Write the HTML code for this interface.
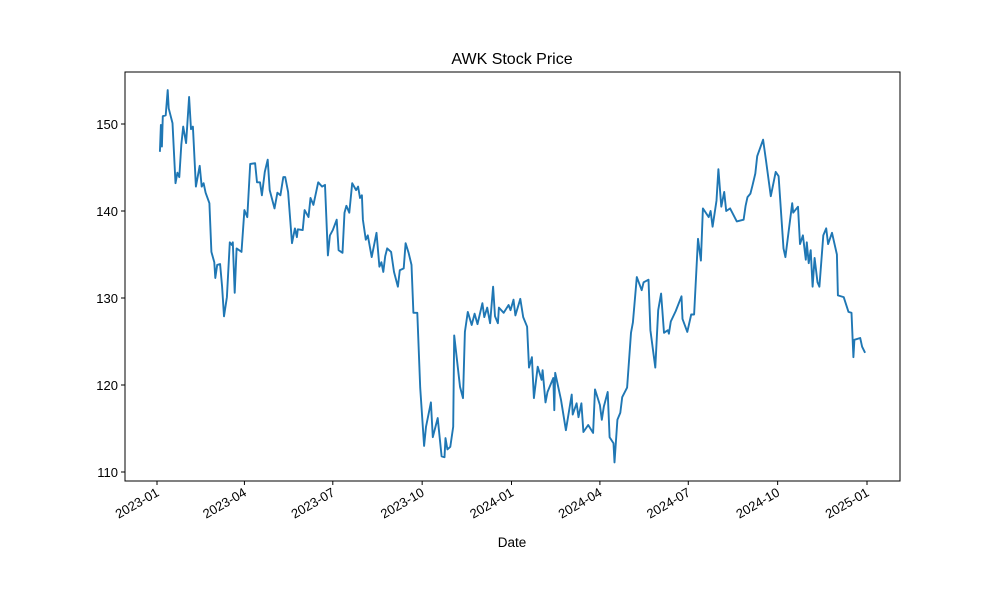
<!DOCTYPE html>
<html><head><meta charset="utf-8"><style>
html,body{margin:0;padding:0;background:#fff;}
svg{display:block;font-family:"Liberation Sans","DejaVu Sans",sans-serif;}
</style></head><body>
<svg id="chart" width="1000" height="600" viewBox="0 0 1000 600">
<rect x="0" y="0" width="1000" height="600" fill="#fff"/>
<text x="512" y="64" text-anchor="middle" font-size="16">AWK Stock Price</text>
<text x="512" y="547" text-anchor="middle" font-size="13.5">Date</text>
<g id="plot"></g>
</svg>
<script>
const dayOffsets = [3,4,5,6,9,11,12,16,19,21,23,25,27,30,33,35,37,40,44,46,48,50,54,56,59,60,62,65,67,69,72,75,77,78,80,82,87,90,93,96,101,103,106,108,111,114,116,121,124,127,130,132,135,139,142,144,145,150,152,156,158,161,166,170,173,176,178,181,185,187,191,193,195,198,201,205,207,209,211,212,215,217,221,226,229,231,233,235,237,241,244,248,250,254,256,259,262,264,268,271,275,277,282,284,289,293,296,297,299,302,305,306,312,315,317,320,324,327,330,335,337,340,343,346,348,351,352,357,362,364,367,369,374,377,381,383,386,388,392,396,397,400,402,408,409,410,416,421,427,428,432,434,437,439,444,449,451,456,458,460,464,466,470,471,474,477,479,484,488,490,494,499,501,506,508,513,516,519,522,526,527,529,534,540,541,546,550,553,557,560,562,568,570,572,576,578,581,584,586,590,597,604,606,608,611,613,616,618,624,627,632,637,640,645,647,654,655,660,662,665,668,669,671,673,675,677,680,682,686,689,691,695,700,701,707,712,715,717,718,724,726,729];
const prices = [146.8,149.9,147.4,150.9,151.0,153.9,151.8,150.1,143.2,144.4,143.9,147.6,149.7,147.8,153.1,149.4,149.7,142.8,145.2,142.8,143.2,142.1,140.9,135.3,134.1,132.3,133.8,133.9,131.3,127.9,130.1,136.4,136.1,136.4,130.6,135.7,135.3,140.1,139.3,145.4,145.5,143.3,143.3,141.8,144.5,145.9,142.4,140.3,142.1,141.8,143.9,143.9,142.2,136.3,138.0,137.0,137.9,137.8,140.1,139.3,141.5,140.7,143.3,142.8,143.0,134.9,137.2,137.8,139.0,135.5,135.2,139.8,140.6,139.8,143.2,142.4,142.8,141.5,141.8,139.0,136.7,137.2,134.7,137.5,133.6,134.1,133.0,134.8,135.7,135.3,133.0,131.3,133.2,133.4,136.3,135.2,133.8,128.3,128.3,119.7,113.0,115.2,118.0,114.0,116.2,111.8,111.7,113.9,112.6,112.9,115.2,125.7,119.8,118.5,126.1,128.4,126.9,128.2,127.0,129.4,127.8,128.9,127.1,131.3,127.9,127.1,128.9,128.3,129.2,128.6,129.8,128.0,129.9,127.8,126.7,122.0,123.2,118.5,122.1,120.6,121.7,118.0,119.2,120.8,117.1,121.4,118.3,114.8,118.9,116.6,117.9,116.3,117.9,114.6,115.4,114.5,119.5,117.7,116.0,117.5,119.2,114.0,113.3,111.1,116.0,116.8,118.6,119.7,126.0,127.2,132.4,130.9,131.8,132.1,126.3,122.0,128.6,130.5,126.0,126.3,125.9,127.3,128.5,130.2,127.6,126.1,128.1,128.1,136.8,134.3,140.3,139.3,140.0,138.2,141.2,144.8,140.5,142.2,140.0,140.3,138.8,139.0,140.6,141.6,142.0,142.9,144.3,146.3,148.2,145.8,141.7,144.5,144.0,135.7,134.7,140.9,139.8,140.5,136.2,137.2,134.4,136.4,134.0,135.5,131.3,134.6,131.8,131.3,137.2,138.0,136.2,137.5,135.0,130.3,130.1,128.4,128.3,123.2,125.2,125.4,124.4,123.7];
const yTicks = [110,120,130,140,150];
const xTickLabels = ["2023-01","2023-04","2023-07","2023-10","2024-01","2024-04","2024-07","2024-10","2025-01"];

const L=125,R=900,T=72,B=481;
const base = Date.UTC(2023,0,1);
const DAY=86400000;
const x0 = Date.UTC(2023,0,1), x1 = Date.UTC(2025,0,1);
function xs(t){ return 157 + (t - x0)/(x1 - x0)*710; }
function ys(v){ return 472 - (v - 110)*8.7; }
const NS="http://www.w3.org/2000/svg";
const g=document.getElementById('plot');
function el(tag,attrs,parent){const e=document.createElementNS(NS,tag);for(const k in attrs)e.setAttribute(k,attrs[k]);(parent||g).appendChild(e);return e;}

let d="";
dayOffsets.forEach((o,i)=>{const t=base+o*DAY;d+=(i?"L":"M")+xs(t).toFixed(1)+","+ys(prices[i]).toFixed(1);});
const line=el('path',{d:d,fill:'none',stroke:'#1f77b4','stroke-width':1.9,'stroke-linejoin':'round'});



const frame=el('rect',{x:L,y:T,width:R-L,height:B-T,fill:'none',stroke:'#000','stroke-width':1});



yTicks.forEach(v=>{
  const y=ys(v);
  const tk=el('line',{x1:L-4,x2:L,y1:y,y2:y,stroke:'#000','stroke-width':1});
  
  
  const tx=el('text',{x:L-7,y:y+5,'text-anchor':'end','font-size':13});
  tx.textContent=v;
  
  
});

xTickLabels.forEach(s=>{
  const [yy,mm]=s.split('-').map(Number);
  const x=xs(Date.UTC(yy,mm-1,1));
  const tk=el('line',{x1:x,x2:x,y1:B,y2:B+4,stroke:'#000','stroke-width':1});
  
  
  const tx=el('text',{x:x+3,y:B+14,'text-anchor':'end','font-size':13,transform:`rotate(-30 ${x+3} ${B+14})`});
  tx.textContent=s;
  
  
});
</script>
</body></html>
